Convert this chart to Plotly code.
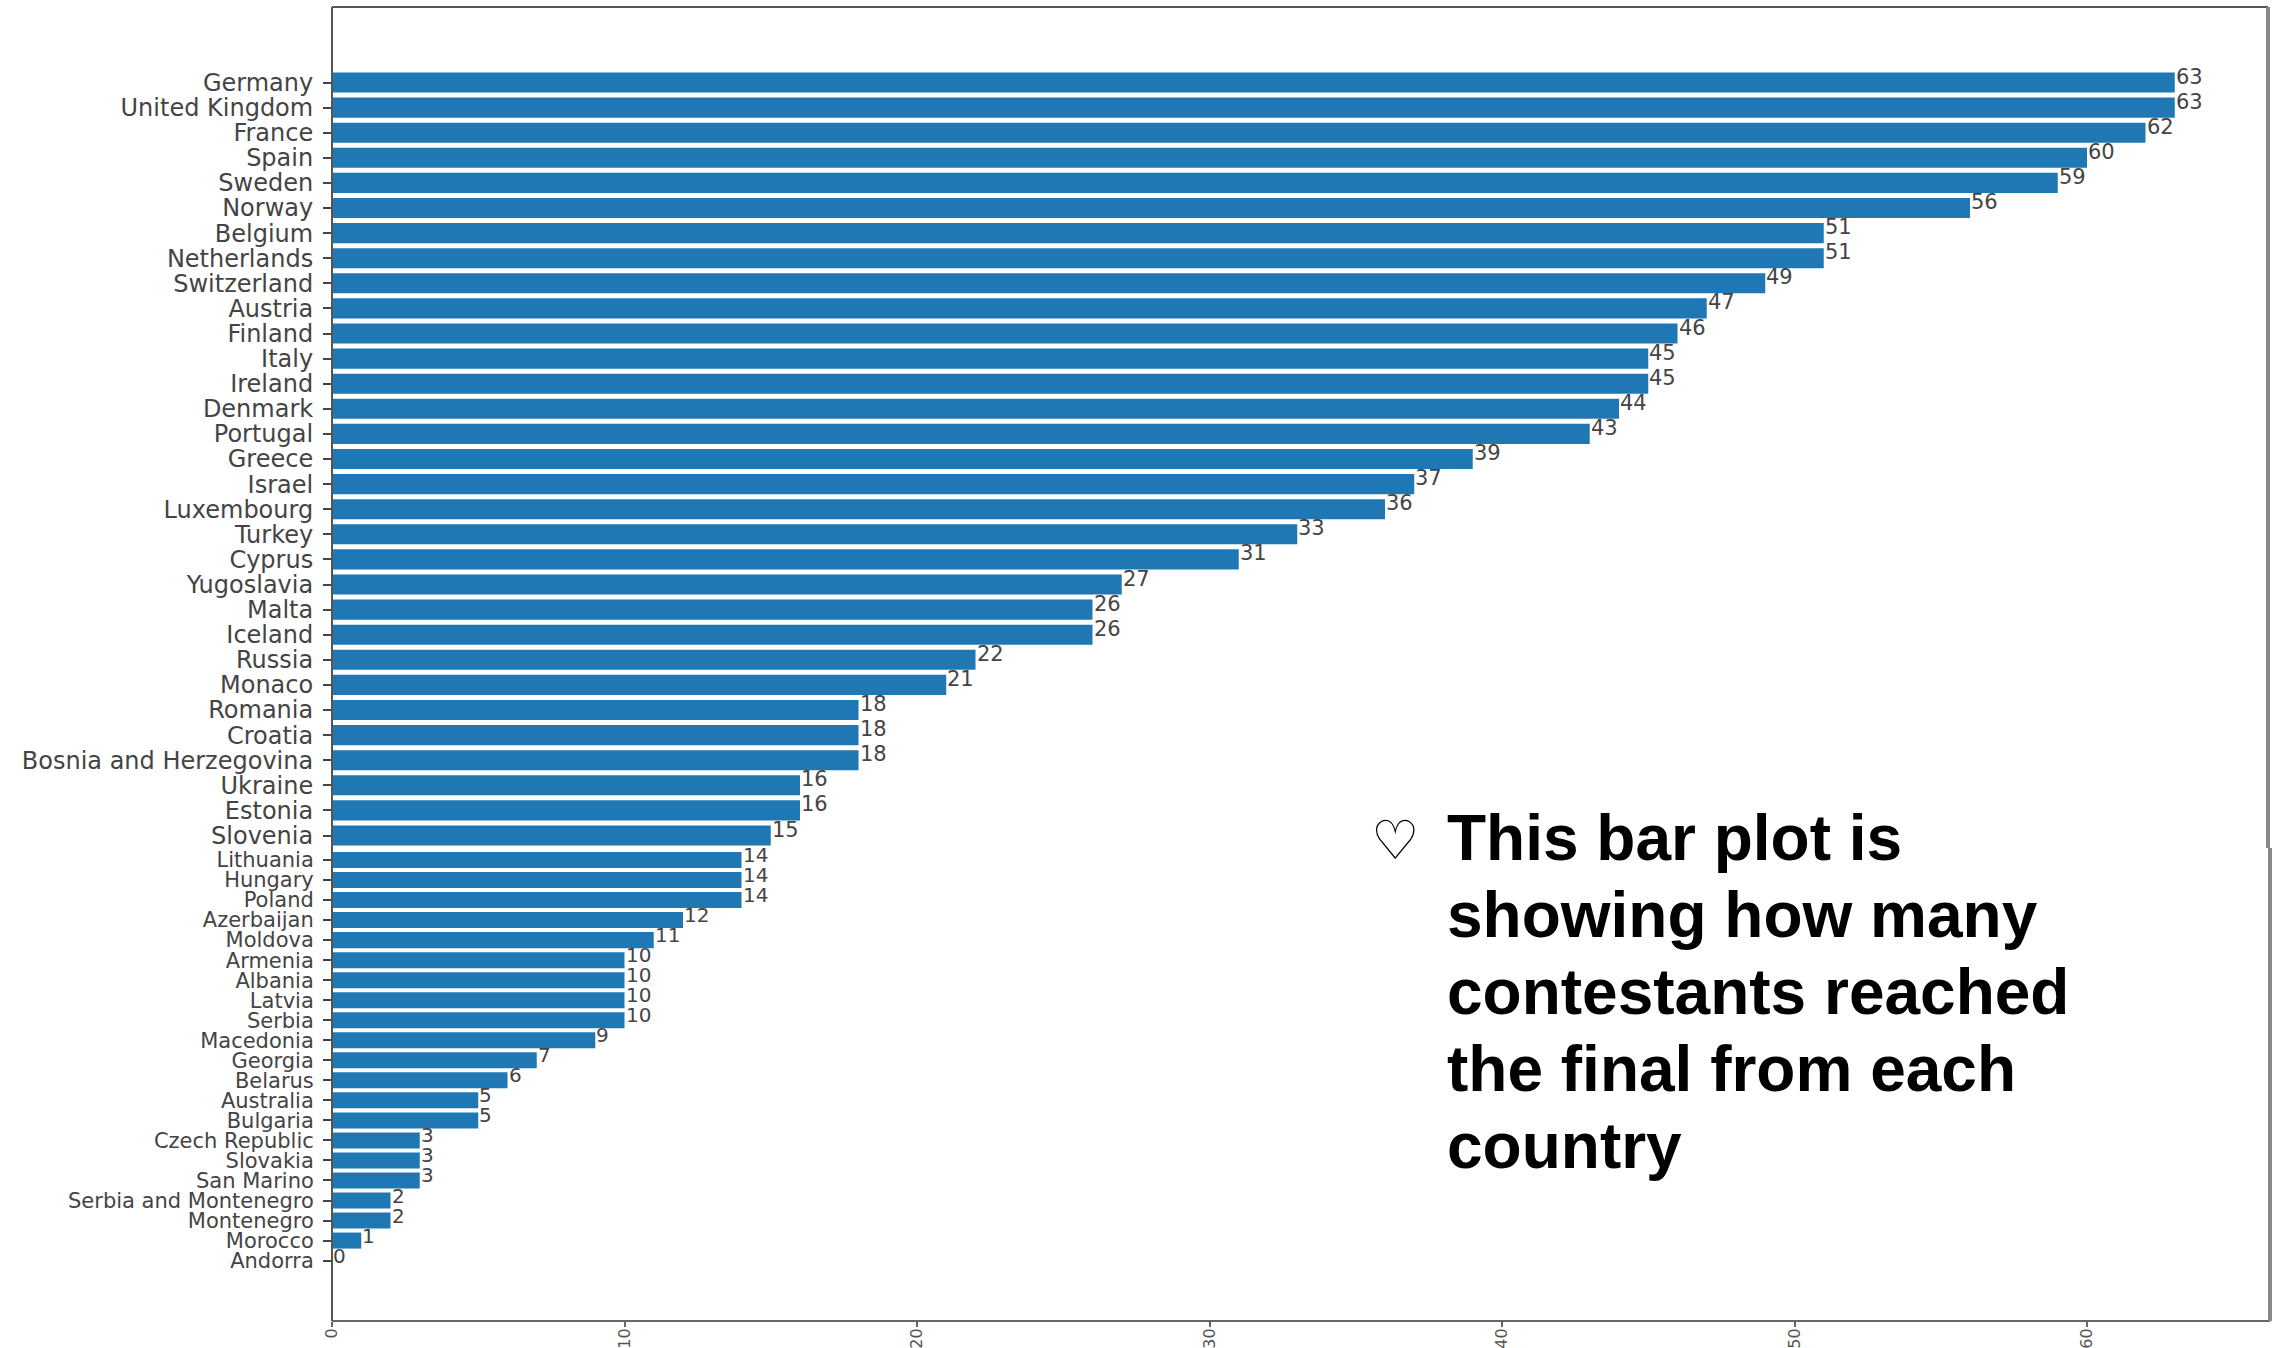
import plotly.graph_objects as go

upper_countries = ["Germany","United Kingdom","France","Spain","Sweden","Norway","Belgium","Netherlands",
    "Switzerland","Austria","Finland","Italy","Ireland","Denmark","Portugal","Greece","Israel","Luxembourg",
    "Turkey","Cyprus","Yugoslavia","Malta","Iceland","Russia","Monaco","Romania","Croatia",
    "Bosnia and Herzegovina","Ukraine","Estonia","Slovenia"]
upper_counts = [63,63,62,60,59,56,51,51,49,47,46,45,45,44,43,39,37,36,33,31,27,26,26,22,21,18,18,18,16,16,15]
lower_countries = ["Lithuania","Hungary","Poland","Azerbaijan","Moldova","Armenia","Albania","Latvia","Serbia",
    "Macedonia","Georgia","Belarus","Australia","Bulgaria","Czech Republic","Slovakia","San Marino",
    "Serbia and Montenegro","Montenegro","Morocco","Andorra"]
lower_counts = [14,14,14,12,11,10,10,10,10,9,7,6,5,5,3,3,3,2,2,1,0]
x_ticks = [0,10,20,30,40,50,60]
note_lines = ["This bar plot is","showing how many","contestants reached","the final from each","country"]

W, H = 2283, 1348
L, R, T, B, SPLIT = 332, 2268, 7, 1321, 848
fx = lambda p: p / W
fy = lambda p: 1 - p / H
BLUE = "#1f77b4"
GREY = "#444444"

fig = go.Figure()
annotations = []
for cats, vals, xa, ya, ys, fs in [(upper_countries, upper_counts, "x", "y", 6, 21),
                                   (lower_countries, lower_counts, "x2", "y2", 5, 20)]:
    fig.add_trace(go.Bar(y=cats, x=vals, orientation="h", width=0.8, marker=dict(color=BLUE, line=dict(width=0)),
                         xaxis=xa, yaxis=ya, showlegend=False))
    for c, v in zip(cats, vals):
        annotations.append(dict(text=str(v), x=v, y=c, xref=xa, yref=ya, xanchor="left", yanchor="middle",
                                xshift=-1, yshift=ys, showarrow=False,
                                font=dict(family="DejaVu Sans", size=fs, color=GREY)))

y_common = dict(type="category", showgrid=False, zeroline=False, showline=False, ticks="outside", ticklen=8,
                tickwidth=1.5, tickcolor=GREY, ticklabelstandoff=5, automargin=False, dtick=1)
x_range = [0, (R - L) / 29.25]
line = lambda x0, y0, x1, y1, color, width: dict(type="line", xref="paper", yref="paper", x0=fx(x0), x1=fx(x1),
                                                 y0=fy(y0), y1=fy(y1), line=dict(color=color, width=width), layer="above")
fig.update_layout(
    width=W, height=H, autosize=False, paper_bgcolor="white", plot_bgcolor="white",
    margin=dict(l=0, r=0, t=0, b=0), showlegend=False, bargap=0.2,
    xaxis=dict(domain=[fx(L), fx(R)], range=x_range, anchor="y", showticklabels=False, ticks="", showgrid=False,
               zeroline=False, showline=False),
    xaxis2=dict(domain=[fx(L), fx(R)], range=x_range, anchor="y2", tickvals=x_ticks, tickangle=-90, ticks="outside",
                ticklen=5, tickwidth=2, tickcolor="#666666", showgrid=False, zeroline=False, showline=False,
                tickfont=dict(family="DejaVu Sans", size=16, color="#555555"), automargin=False, ticklabelstandoff=-5),
    yaxis=dict(domain=[fy(SPLIT), fy(T)], range=[(SPLIT - 82.5) / 25.1, -(82.5 - T) / 25.1],
               tickfont=dict(family="DejaVu Sans", size=24, color=GREY), **y_common),
    yaxis2=dict(domain=[fy(B), fy(SPLIT)], range=[(B - 860) / 20.03, -(860 - SPLIT) / 20.03],
                tickfont=dict(family="DejaVu Sans", size=21, color=GREY), **y_common),
    shapes=[line(L, T, L, B, "#555555", 2), line(L, T, R, T, "#555555", 2), line(L, B, R + 2, B, "#666666", 2),
            line(R, T, R, SPLIT, "#888888", 4), line(R + 2, SPLIT, R + 2, B, "#888888", 4)],
)

annotations.append(dict(text="♡", xref="paper", yref="paper", x=fx(1395), y=fy(840), xanchor="center", yanchor="middle",
                        showarrow=False, font=dict(family="DejaVu Sans", size=54, color="black")))
for i, text in enumerate(note_lines):
    annotations.append(dict(text=f"<b>{text}</b>", xref="paper", yref="paper", x=fx(1445), y=fy(838 + 76.9 * i),
                            xanchor="left", yanchor="middle", showarrow=False, align="left",
                            font=dict(family="Liberation Sans", size=64, color="black")))
fig.update_layout(annotations=annotations)

fig.write_html("out.html", config=dict(displayModeBar=False),
               post_script="document.body.style.margin='0';document.body.style.overflow='hidden';")
